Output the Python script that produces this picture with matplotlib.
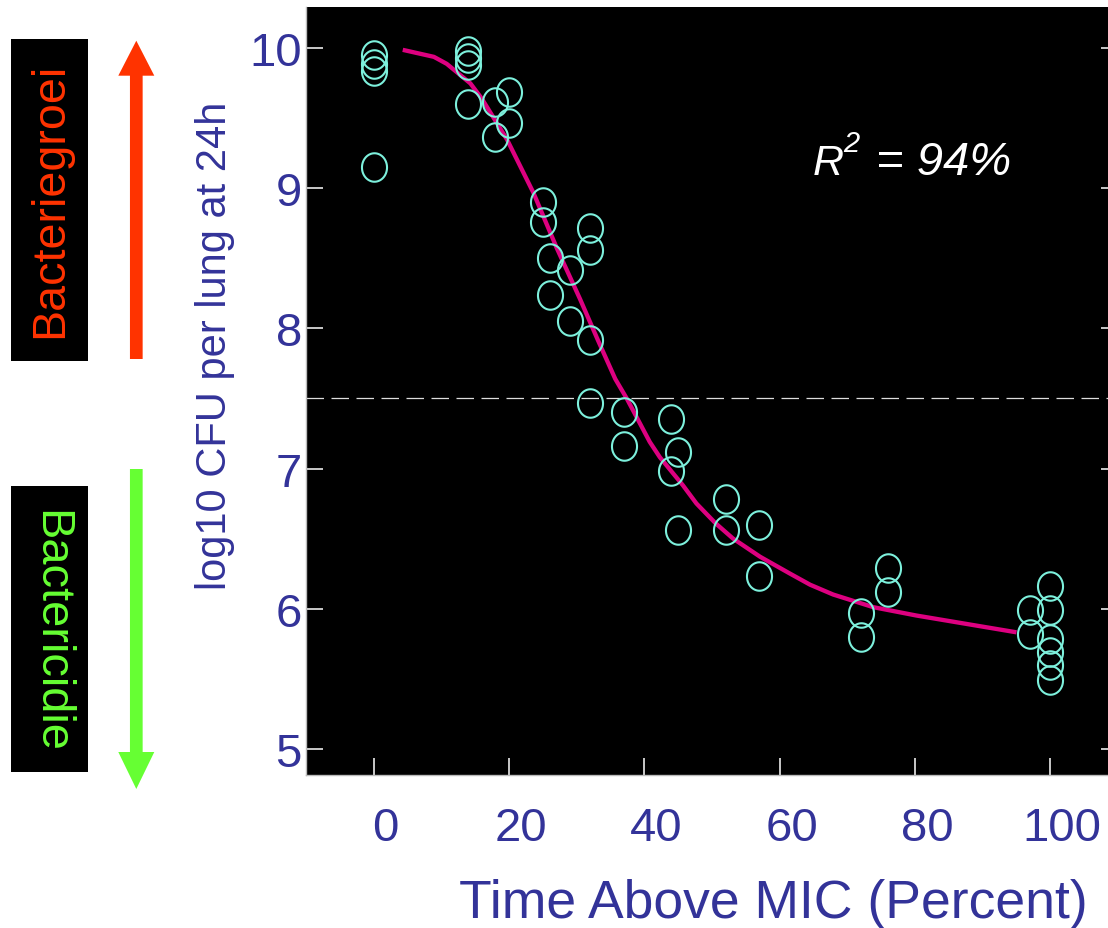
import numpy as np
import matplotlib
matplotlib.use("Agg")
import matplotlib.pyplot as plt
from matplotlib.path import Path
from matplotlib.patches import FancyArrow, Rectangle
from matplotlib.transforms import ScaledTranslation

plt.rcParams['font.family'] = ['Liberation Sans', 'DejaVu Sans']

# ---------------- data ----------------
time_above_mic = [0, 0, 0, 0,
                  14, 14, 14, 14,
                  18, 18,
                  20, 20,
                  25, 25,
                  26, 26,
                  29, 29,
                  32, 32, 32, 32,
                  37, 37,
                  44, 44,
                  45, 45,
                  52, 52,
                  57, 57,
                  72, 72,
                  76, 76,
                  97, 97,
                  100, 100, 100, 100, 100, 100]
log_cfu = [9.95, 9.89, 9.84, 9.15,
           9.98, 9.93, 9.88, 9.60,
           9.62, 9.37,
           9.69, 9.47,
           8.90, 8.76,
           8.50, 8.24,
           8.42, 8.05,
           8.72, 8.56, 7.92, 7.47,
           7.40, 7.16,
           7.35, 6.98,
           7.12, 6.56,
           6.78, 6.56,
           6.60, 6.23,
           5.97, 5.80,
           6.29, 6.12,
           5.99, 5.82,
           6.16, 5.99, 5.78, 5.69, 5.60, 5.49]

fit_x = [4.3, 8.9, 10.8, 14.3, 16.0, 19.7, 23.6, 27.1, 30.5, 33.2, 35.7, 37.4,
         40.8, 42.3, 45.7, 47.7, 50.5, 53.1, 57.1, 61.5, 64.5, 67.9, 73.8,
         80.2, 87.6, 95.0]
fit_y = [9.99, 9.94, 9.89, 9.75, 9.64, 9.35, 8.97, 8.57, 8.21, 7.91, 7.64, 7.50,
         7.19, 7.08, 6.88, 6.75, 6.61, 6.50, 6.37, 6.25, 6.17, 6.10, 6.01,
         5.95, 5.89, 5.83]

x_ticks = [0, 20, 40, 60, 80, 100]
y_ticks = [5, 6, 7, 8, 9, 10]
stasis_level = 7.5
r2_value = "94%"
x_label = "Time Above MIC (Percent)"
y_label = "log10 CFU per lung at 24h"
up_label = "Bacteriegroei"
down_label = "Bactericidie"

# ---------------- style ----------------
W, H = 1108, 929
BLUE = '#333399'
CYAN = '#7DF0DC'
MAGENTA = '#DD0080'
RED = '#FF3300'
GREEN = '#66FF33'

fig = plt.figure(figsize=(W / 100, H / 100), dpi=100)
fig.patch.set_facecolor('white')

ax = fig.add_axes([306 / W, 1 - 776 / H, 812 / W, 768 / H])
ax.set_facecolor('black')
ax.set_xlim(-10, 110)
ax.set_ylim(4.811, 10.296)

theta = np.linspace(0, 2 * np.pi, 73)
ell = Path(np.column_stack([0.88 * np.cos(theta), np.sin(theta)]), closed=True)

ax.axhline(stasis_level, color='#DDDDDD', lw=0.9, ls=(0, (14, 6)), zorder=1)
ax.plot(fit_x, fit_y, color=MAGENTA, lw=3.1, zorder=2,
        solid_capstyle='butt', solid_joinstyle='round')
ax.plot(time_above_mic, log_cfu, ls='none', marker=ell, ms=20.5,
        mfc='none', mec=CYAN, mew=1.5, zorder=3)

for s in ['top', 'right']:
    ax.spines[s].set_visible(False)
for s in ['left', 'bottom']:
    ax.spines[s].set_color('#BBBBBB')
    ax.spines[s].set_linewidth(1.0)

ax.set_xticks(x_ticks)
ax.set_yticks(y_ticks)
ax.set_xticklabels([str(v) for v in x_ticks])
ax.set_yticklabels([str(v) for v in y_ticks])
ax.tick_params(axis='both', direction='in', length=12.5, width=1.1,
               color='white', labelcolor=BLUE, labelsize=34)
ax.tick_params(axis='y', right=True, labelright=False, pad=3)
ax.tick_params(axis='x', pad=22)
for lbl in ax.get_xticklabels():
    lbl.set_transform(lbl.get_transform() +
                      ScaledTranslation(0.12, 0, fig.dpi_scale_trans))

# ---------------- overlay (pixel coordinates) ----------------
ov = fig.add_axes([0, 0, 1, 1], zorder=10)
ov.set_xlim(0, W)
ov.set_ylim(H, 0)
ov.axis('off')
ov.patch.set_alpha(0)

ov.text(773, 918, x_label, ha='center', va='baseline', fontsize=38.5, color=BLUE)
ov.text(215, 346, y_label, rotation=90, ha='center', va='center',
        fontsize=30, color=BLUE)

ov.add_patch(Rectangle((11, 40), 77, 322, color='black', lw=0))
ov.add_patch(Rectangle((11, 487), 77, 286, color='black', lw=0))
ov.text(50, 200, up_label, rotation=90, ha='center', va='center',
        fontsize=33.6, color=RED)
ov.text(50, 631, down_label, rotation=270, ha='center', va='center',
        fontsize=33.8, color=GREEN)

ov.add_patch(FancyArrow(136.3, 360, 0, -318.3, width=12.7, head_width=36,
                        head_length=35, length_includes_head=True,
                        color=RED, lw=0))
ov.add_patch(FancyArrow(136.3, 470, 0, 320, width=12.7, head_width=36,
                        head_length=37, length_includes_head=True,
                        color=GREEN, lw=0))

ov.text(813, 175, "R", style='italic', fontsize=31, color='white', va='baseline')
ov.text(843, 152, "2", style='italic', fontsize=21, color='white', va='baseline')
ov.text(876, 175, "= " + r2_value, style='italic', fontsize=34, color='white',
        va='baseline')

fig.savefig("out.png", dpi=100)
